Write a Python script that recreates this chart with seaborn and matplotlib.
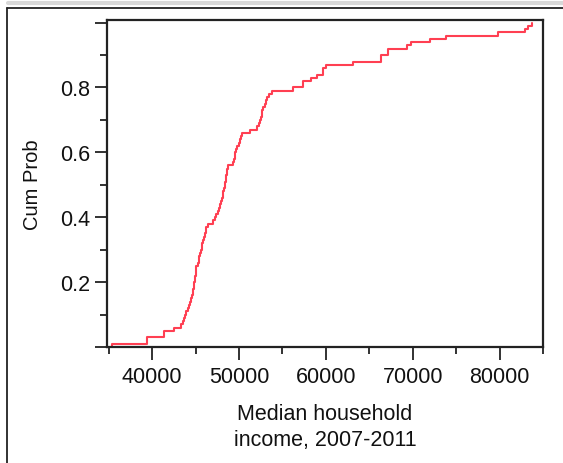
import numpy as np
import pandas as pd
import seaborn as sns
import matplotlib
matplotlib.use("Agg")
import matplotlib.pyplot as plt
from matplotlib.lines import Line2D
from matplotlib.ticker import FixedLocator

# Median household income values
income = [
    35400, 39400, 39400, 41400, 41400, 42500,
    43300, 43500, 43700, 43800, 43950, 44100, 44200, 44350, 44450, 44550,
    44650, 44750, 44800, 44850, 44900, 44950, 45000, 45050, 45100, 45250,
    45350, 45450, 45550, 45650, 45700, 45780, 45850, 45950, 46050, 46150,
    46250, 46470, 47050, 47250, 47400, 47550, 47700, 47800, 47950, 48050,
    48150, 48200, 48300, 48350, 48400, 48450, 48550, 48600, 48650, 48700,
    49350, 49450, 49500, 49550, 49600, 49800, 49950, 50100, 50250, 50350,
    51300, 52100, 52250, 52400, 52500, 52600, 52700, 52800, 52950, 53100,
    53200, 53450, 53750,
    56200, 57400, 57400, 58250, 58950, 59650, 59650, 60050,
    63150, 66400, 66400, 67150, 67150, 69350, 69850, 71950, 73850,
    79800, 82900, 83300, 83700,
]
x_major = [40000, 50000, 60000, 70000, 80000]
x_minor = [35000, 45000, 55000, 65000, 75000, 85000]
y_major = [0.0, 0.2, 0.4, 0.6, 0.8, 1.0]
y_major_labels = ["", "0.2", "0.4", "0.6", "0.8", ""]
y_minor = [0.1, 0.3, 0.5, 0.7, 0.9]

df = pd.DataFrame({"income": income})

sns.set_style("white")
plt.rcParams["font.family"] = ["Liberation Sans", "DejaVu Sans"]

fig = plt.figure(figsize=(5.63, 4.64), dpi=100)
ax = fig.add_axes([107 / 563, 1 - 348 / 464, (543 - 107) / 563, (348 - 21) / 464])

sns.ecdfplot(data=df, x="income", ax=ax, color="#ff3f52", linewidth=1.5)

ax.set_xlim(34800, 85000)
ax.set_ylim(0, 1.008)

ax.xaxis.set_major_locator(FixedLocator(x_major))
ax.xaxis.set_minor_locator(FixedLocator(x_minor))
ax.set_xticklabels([str(v) for v in x_major])
ax.yaxis.set_major_locator(FixedLocator(y_major))
ax.yaxis.set_minor_locator(FixedLocator(y_minor))
ax.set_yticklabels(y_major_labels)

ax.tick_params(axis="x", which="major", direction="out", length=9, width=1.3,
               color="#222222", labelsize=15.5, labelcolor="#111111", pad=5,
               bottom=True)
ax.tick_params(axis="y", which="major", direction="out", length=9, width=1.3,
               color="#222222", labelsize=15.5, labelcolor="#111111", pad=3,
               left=True)
ax.tick_params(axis="both", which="minor", direction="out", length=5, width=1.3,
               color="#222222", bottom=True, left=True)

for side, sp in ax.spines.items():
    sp.set_visible(True)
    sp.set_color("#222222")
    sp.set_linewidth(1.6)

ax.set_xlabel("Median household\nincome, 2007-2011", fontsize=15.5, color="#111111",
              labelpad=11, linespacing=1.32)
ax.set_ylabel("Cum Prob", fontsize=14.5, color="#111111", labelpad=13)

# outer window frame
fig.add_artist(Line2D([8 / 563, 1.0], [1 - 4 / 464, 1 - 4 / 464], color="#d8d8d8",
                      linewidth=3, transform=fig.transFigure))
fig.add_artist(Line2D([7 / 563, 1.0], [1 - 9 / 464, 1 - 9 / 464], color="#222222",
                      linewidth=1.3, transform=fig.transFigure))
fig.add_artist(Line2D([7 / 563, 7 / 563], [0, 1 - 9 / 464], color="#222222",
                      linewidth=1.3, transform=fig.transFigure))

fig.savefig("out.png", dpi=100, facecolor="white")
